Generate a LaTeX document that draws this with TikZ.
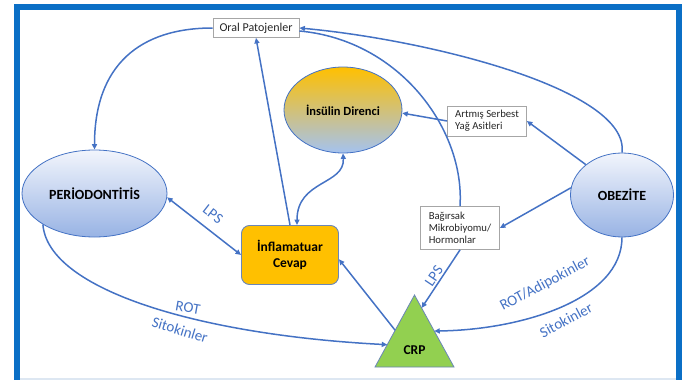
\documentclass[tikz,border=0pt]{standalone}
\usepackage{fontspec}
\setmainfont{Carlito}
\usetikzlibrary{arrows.meta,shapes.geometric,calc}
\definecolor{frameblue}{HTML}{0B6FC6}
\definecolor{connblue}{HTML}{4472C4}
\definecolor{gold}{HTML}{FFC000}
\definecolor{inslow}{HTML}{A4C2F0}
\definecolor{ellblue}{HTML}{98B3E4}
\definecolor{ellwhite}{HTML}{F2F5FC}
\definecolor{crpgreen}{HTML}{92D050}
\definecolor{boxgray}{HTML}{A6A6A6}
\definecolor{stripblue}{HTML}{DDE7F2}
\definecolor{inflborder}{HTML}{6A86B8}
\tikzset{
  link/.style={draw=connblue, line width=1.5pt, -{Triangle[length=5.5pt,width=5pt]}},
  linkboth/.style={draw=connblue, line width=1.5pt, {Triangle[length=5.5pt,width=5pt]}-{Triangle[length=5.5pt,width=5pt]}},
  plain/.style={draw=connblue, line width=1.5pt},
  pbox/.style={draw=boxgray, line width=0.8pt, fill=white, inner sep=2pt, text=black!85},
  smalltext/.style={font=\fontsize{10.7pt}{12pt}\selectfont, align=left},
  bluell/.style={ellipse, draw=connblue, line width=0.8pt, top color=ellwhite, bottom color=ellblue, inner sep=0pt, font=\bfseries\fontsize{14pt}{16pt}\selectfont},
  lbl/.style={text=connblue, font=\fontsize{15pt}{17pt}\selectfont, inner sep=1pt}
}
\begin{document}
\begin{tikzpicture}[x=1pt,y=-1pt]
\useasboundingbox (0,0) rectangle (686,380);
\fill[stripblue] (19,377.5) rectangle (676,380);
\begin{scope}
  \clip (0,0) rectangle (686,380);
  \draw[frameblue, line width=5.5pt] (16.75,6.75) rectangle (679,400);
\end{scope}

% nodes
\node[pbox, minimum width=86pt, minimum height=19pt, font=\fontsize{12pt}{14pt}\selectfont] (oral) at (256,28) {Oral Patojenler};
\node[ellipse, draw=connblue, line width=0.8pt, top color=gold, bottom color=inslow, minimum width=118pt, minimum height=86pt, inner sep=0pt, font=\bfseries\fontsize{12.5pt}{14pt}\selectfont] (ins) at (343,110) {İnsülin Direnci};
\node[pbox, smalltext, minimum width=79pt, minimum height=30pt] (artmis) at (487,121) {Artmış Serbest\\Yağ Asitleri};
\node[bluell, minimum width=145pt, minimum height=87pt] (perio) at (94.5,193.5) {PERİODONTİTİS};
\node[bluell, minimum width=103pt, minimum height=84pt] (obez) at (622,195) {OBEZİTE};
\node[draw=inflborder, line width=0.9pt, fill=gold, rounded corners=8pt, minimum width=97pt, minimum height=59pt, align=center, font=\bfseries\fontsize{13.5pt}{15.7pt}\selectfont] (infl) at (290,255) {İnflamatuar\\Cevap};
\node[pbox, smalltext, minimum width=79pt, minimum height=43pt] (bag) at (460,228) {Bağırsak\\Mikrobiyomu/\\Hormonlar};

% CRP triangle
\coordinate (crpA) at (414.5,295);
\coordinate (crpB) at (375,367);
\coordinate (crpC) at (454,367);
\draw[fill=crpgreen, draw=inflborder, line width=0.8pt] (crpA) -- (crpB) -- (crpC) -- cycle;
\node[font=\bfseries\fontsize{13.5pt}{15pt}\selectfont] (crp) at (414.5,350) {CRP};
\coordinate (crpL1) at ($(crpA)!0.69!(crpB)$);
\coordinate (crpL2) at ($(crpA)!0.49!(crpB)$);
\coordinate (crpR1) at ($(crpA)!0.5!(crpC)$);
\coordinate (crpR2) at ($(crpA)!0.18!(crpC)$);

% connectors
\draw[link] (oral.west) .. controls (140,28) and (94.5,65) .. (perio.north);
\draw[link] (obez.north) .. controls (630,90) and (430,40) .. (oral.east);
\draw[plain] ($(oral.east)+(0,3)$) .. controls (400,40) and (465,130) .. (bag.north);
\draw[link] (bag.south) -- (crpR2);
\draw[link] (infl.north) -- (oral.south);
\draw[linkboth] (ins.south) .. controls (345,185) and (297,180) .. ($(infl.north)+(7,0)$);
\draw[linkboth] (perio.-3) -- (infl.west);
\draw[link] (artmis.west) -- (ins.-3);
\draw[link] (obez.140) -- (artmis.east);
\draw[link] (obez.172) -- (bag.east);
\draw[link] (crpL2) -- (infl.-5);
\draw[link] (perio.211) .. controls (48,290) and (200,335) .. (crpL1);
\draw[link] (obez.south) .. controls (622,300) and (520,330) .. (crpR1);

% labels
\node[lbl, rotate=-38] (lps1) at (213,214) {LPS};
\node[lbl, rotate=56] (lps2) at (434,276) {LPS};
\node[lbl, rotate=-10] (rot1) at (188,308) {ROT};
\node[lbl, rotate=-17] (sit1) at (180,330) {Sitokinler};
\node[lbl, rotate=28] (rot2) at (545,284) {ROT/Adipokinler};
\node[lbl, rotate=28] (sit2) at (566,320) {Sitokinler};
\end{tikzpicture}
\end{document}
